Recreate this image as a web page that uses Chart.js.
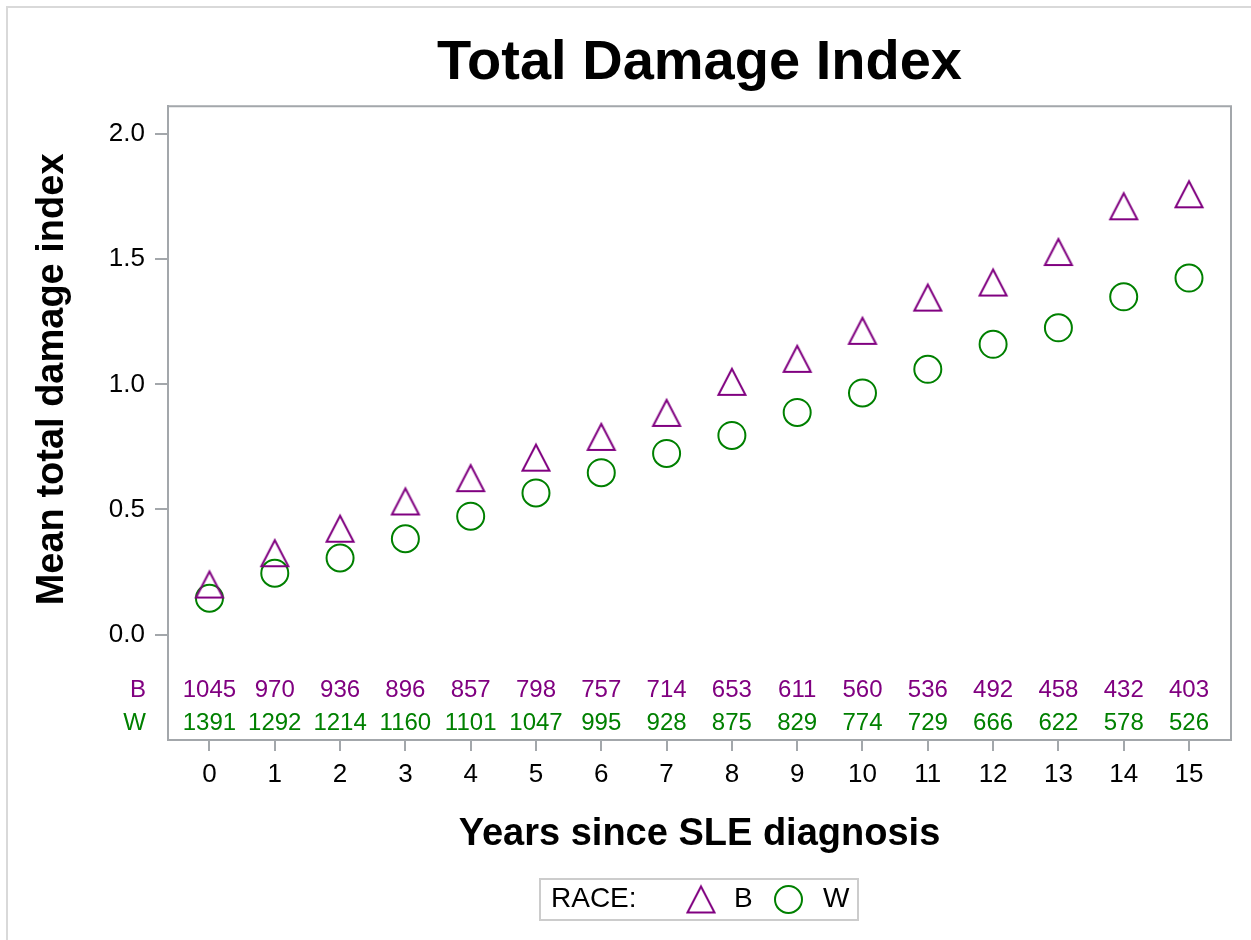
<!DOCTYPE html>
<html>
<head>
<meta charset="utf-8">
<title>Total Damage Index</title>
<script src="https://cdn.jsdelivr.net/npm/chart.js@4.4.1/dist/chart.umd.min.js"></script>
<style>
  html, body { margin: 0; padding: 0; background: #fff; }
  #wrap { position: relative; width: 1251px; height: 940px; }
</style>
</head>
<body>
<div id="wrap"><canvas id="damageChart" width="1251" height="940"></canvas></div>
<script>
// years since diagnosis (x categories)
const years = [0, 1, 2, 3, 4, 5, 6, 7, 8, 9, 10, 11, 12, 13, 14, 15];
// mean total damage index by race
const meanB = [0.20, 0.325, 0.423, 0.532, 0.625, 0.707, 0.790, 0.886, 1.010, 1.102, 1.214, 1.347, 1.407, 1.529, 1.712, 1.760];
const meanW = [0.145, 0.245, 0.306, 0.383, 0.473, 0.566, 0.647, 0.724, 0.796, 0.888, 0.966, 1.060, 1.160, 1.226, 1.350, 1.425];
// number of patients at each year
const atRiskB = [1045, 970, 936, 896, 857, 798, 757, 714, 653, 611, 560, 536, 492, 458, 432, 403];
const atRiskW = [1391, 1292, 1214, 1160, 1101, 1047, 995, 928, 875, 829, 774, 729, 666, 622, 578, 526];
const yTicks = [0, 0.5, 1.0, 1.5, 2.0];

const PURPLE = '#800080';
const GREEN = '#008000';
const FRAME = '#a3a7ab';
const FONT = "'Liberation Sans', Arial, Helvetica, sans-serif";

Chart.defaults.font.family = FONT;
Chart.defaults.color = '#000';

// open triangle a bit taller than equilateral, like the SAS marker
function makeTriangle(color) {
  const w = 27, h = 26, lw = 2;
  const c = document.createElement('canvas');
  c.width = 36; c.height = 36;
  const g = c.getContext('2d');
  g.strokeStyle = color;
  g.lineWidth = lw;
  g.beginPath();
  g.moveTo(18, 18 - h / 2);
  g.lineTo(18 + w / 2, 18 + h / 2);
  g.lineTo(18 - w / 2, 18 + h / 2);
  g.closePath();
  g.stroke();
  return c;
}
const triB = makeTriangle(PURPLE);

const extras = {
  id: 'extras',
  beforeDraw(chart) {
    const ctx = chart.ctx;
    ctx.save();
    ctx.fillStyle = '#fff';
    ctx.fillRect(0, 0, chart.width, chart.height);
    // outer page border (top + left)
    ctx.strokeStyle = '#d9d9d9';
    ctx.lineWidth = 2;
    ctx.beginPath();
    ctx.moveTo(7, chart.height);
    ctx.lineTo(7, 7);
    ctx.lineTo(chart.width, 7);
    ctx.stroke();
    ctx.restore();
  },
  beforeDatasetsDraw(chart) {
    const {ctx, chartArea: a} = chart;
    ctx.save();
    ctx.strokeStyle = FRAME;
    ctx.lineWidth = 2;
    ctx.beginPath();
    ctx.moveTo(a.left, a.top);
    ctx.lineTo(a.right, a.top);
    ctx.lineTo(a.right, a.bottom);
    ctx.stroke();
    ctx.restore();
  },
  afterDraw(chart) {
    const {ctx, chartArea: a} = chart;
    const xs = chart.scales.x, ys = chart.scales.y;
    ctx.save();

    // y axis title
    ctx.font = 'bold 38px ' + FONT;
    ctx.fillStyle = '#000';
    ctx.textAlign = 'center';
    ctx.textBaseline = 'middle';
    ctx.translate(53, (ys.getPixelForValue(0) + ys.getPixelForValue(2)) / 2 - 5);
    ctx.rotate(-Math.PI / 2);
    ctx.fillText('Mean total damage index', 0, 0);
    ctx.setTransform(1, 0, 0, 1, 0, 0);

    // at-risk table inside the frame
    const rows = [
      {label: 'B', color: PURPLE, counts: atRiskB, at: -0.224},
      {label: 'W', color: GREEN, counts: atRiskW, at: -0.356}
    ];
    ctx.font = '24px ' + FONT;
    rows.forEach(r => {
      const py = ys.getPixelForValue(r.at);
      ctx.fillStyle = r.color;
      ctx.textAlign = 'right';
      ctx.fillText(r.label, a.left - 22, py);
      ctx.textAlign = 'center';
      r.counts.forEach((n, i) => ctx.fillText(String(n), xs.getPixelForValue(years[i]), py));
    });

    // legend
    const lx = 540, ly = 879, lw = 318, lh = 41, cy = ly + lh / 2;
    ctx.strokeStyle = '#cccccc';
    ctx.lineWidth = 2;
    ctx.strokeRect(lx, ly, lw, lh);
    ctx.font = '28px ' + FONT;
    ctx.fillStyle = '#000';
    ctx.textAlign = 'left';
    ctx.fillText('RACE:', lx + 11, cy);
    ctx.drawImage(triB, 701 - 18, cy - 18);
    ctx.fillText(chart.data.datasets[0].label, 734, cy);
    ctx.strokeStyle = GREEN;
    ctx.beginPath();
    ctx.arc(788.5, cy, 13.5, 0, Math.PI * 2);
    ctx.stroke();
    ctx.fillStyle = '#000';
    ctx.fillText(chart.data.datasets[1].label, 823, cy);
    ctx.restore();
  }
};

new Chart(document.getElementById('damageChart'), {
  type: 'scatter',
  data: {
    datasets: [
      {
        label: 'B',
        data: years.map((x, i) => ({x: x, y: meanB[i]})),
        pointStyle: triB,
        borderColor: PURPLE,
        backgroundColor: 'rgba(0,0,0,0)'
      },
      {
        label: 'W',
        data: years.map((x, i) => ({x: x, y: meanW[i]})),
        pointStyle: 'circle',
        pointRadius: 13.5,
        borderWidth: 2,
        borderColor: GREEN,
        backgroundColor: 'rgba(0,0,0,0)'
      }
    ]
  },
  options: {
    responsive: false,
    animation: false,
    events: [],
    layout: { padding: { left: 0, right: 20, top: 0, bottom: 70 } },
    plugins: {
      legend: { display: false },
      tooltip: { enabled: false },
      title: {
        display: true,
        fullSize: false,
        text: 'Total Damage Index',
        font: { size: 56, weight: 'bold' },
        color: '#000',
        padding: { top: 30, bottom: 9 }
      }
    },
    scales: {
      x: {
        type: 'linear',
        min: -0.635,
        max: 15.643,
        afterBuildTicks: s => { s.ticks = years.map(v => ({value: v})); },
        afterFit: s => { s.height = 130; },
        ticks: { font: { size: 26 }, color: '#000', padding: 8, maxRotation: 0 },
        grid: { drawOnChartArea: false, tickLength: 11, color: FRAME, lineWidth: 2 },
        border: { display: true, color: FRAME, width: 2 },
        title: {
          display: true,
          text: 'Years since SLE diagnosis',
          font: { size: 38, weight: 'bold' },
          color: '#000',
          padding: { top: 0, bottom: 13 }
        }
      },
      y: {
        type: 'linear',
        min: -0.4216,
        max: 2.112,
        afterBuildTicks: s => { s.ticks = yTicks.map(v => ({value: v})); },
        afterFit: s => { s.width = 168; },
        ticks: { font: { size: 26 }, color: '#000', padding: 10, callback: v => v.toFixed(1) },
        grid: { drawOnChartArea: false, tickLength: 13, color: FRAME, lineWidth: 2 },
        border: { display: true, color: FRAME, width: 2 }
      }
    }
  },
  plugins: [extras]
});
</script>
</body>
</html>
